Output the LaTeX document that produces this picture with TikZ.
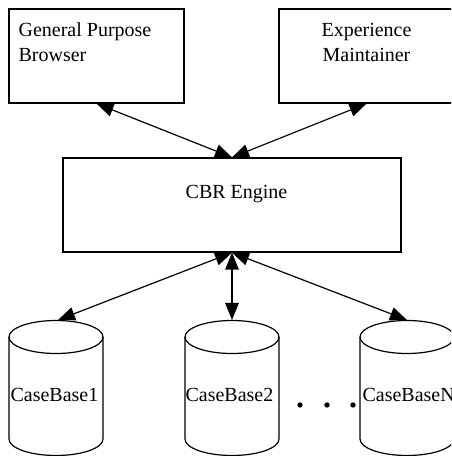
\documentclass[tikz,border=0pt]{standalone}
\usepackage{fontspec}
\setmainfont{Liberation Serif}
\usetikzlibrary{arrows.meta}
\begin{document}
\begin{tikzpicture}[x=1pt,y=1pt,
  line width=1.2pt,
  box/.style={draw, line width=1.2pt, minimum width=175pt, minimum height=94pt, inner sep=0pt},
  label/.style={font=\fontsize{20}{25}\selectfont, inner sep=0pt},
  biarrow/.style={{Triangle[length=17pt,width=13.5pt]}-{Triangle[length=17pt,width=13.5pt]}, line width=1.2pt},
  dot/.style={circle, fill, inner sep=0pt, minimum size=5.4pt}]
  \useasboundingbox (0,0) rectangle (451,456);
  \fill[white] (0,0) rectangle (451,456);
  \clip (0,0) rectangle (451,456);

  % client boxes
  \node[box] (gpb) at (96.5,400) {};
  \node[label, anchor=base west] (gpbt1) at (18,419) {General Purpose};
  \node[label, anchor=base west] (gpbt2) at (18,394) {Browser};

  \node[box] (em) at (366.5,400) {};
  \node[label, anchor=base] (emt1) at (366.5,419) {Experience};
  \node[label, anchor=base] (emt2) at (366.5,394) {Maintainer};

  % engine
  \node[box, minimum width=338pt] (cbr) at (232,251) {};
  \node[label, anchor=base] (cbrt) at (236.5,257) {CBR Engine};

  % case base cylinders
  \foreach \cx/\nm in {56/cb1, 232/cb2, 407/cbn}{
    \draw (\cx-47,119) -- (\cx-47,17)
      arc[start angle=180, end angle=360, x radius=47, y radius=16.5]
      -- (\cx+47,119);
    \draw (\cx,119) ellipse[x radius=47, y radius=16.5];
    \coordinate (\nm) at (\cx,136);
  }
  \node[label, anchor=base west] (cb1t) at (10,54) {CaseBase1};
  \node[label, anchor=base west] (cb2t) at (185,54) {CaseBase2};
  \node[label, anchor=base west] (cbnt) at (362,54) {CaseBaseN};

  % ellipsis between cylinders
  \node[dot] (d1) at (300,51) {};
  \node[dot] (d2) at (327,51) {};
  \node[dot] (d3) at (353,51) {};

  % connectors
  \draw[biarrow] (gpb.south) -- (cbr.north);
  \draw[biarrow] (em.south) -- (cbr.north);
  \draw[biarrow] (cbr.south) -- ([xshift=2pt]cb1);
  \draw[biarrow] (cbr.south) -- (cb2);
  \draw[biarrow] (cbr.south) -- (cbn);
\end{tikzpicture}
\end{document}
